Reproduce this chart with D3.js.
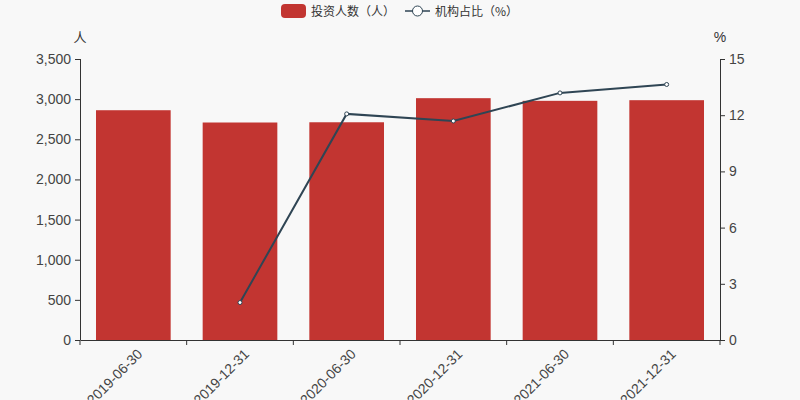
<!DOCTYPE html>
<html>
<head>
<meta charset="utf-8">
<script src="https://cdn.jsdelivr.net/npm/d3@7"></script>
<style>
  body { margin: 0; background: #f8f8f8; }
  svg { display: block; font-family: "Liberation Sans", Arial, "Noto Sans CJK SC", sans-serif; }
</style>
</head>
<body>
<svg id="chart" width="800" height="400"></svg>
<script>
const dates = ["2019-06-30", "2019-12-31", "2020-06-30", "2020-12-31", "2021-06-30", "2021-12-31"];
const investors = [2862, 2709, 2712, 3012, 2979, 2987];
const instShare = [null, 2.0, 12.07, 11.69, 13.19, 13.64];
const leftTicks = [0, 500, 1000, 1500, 2000, 2500, 3000, 3500];
const rightTicks = [0, 3, 6, 9, 12, 15];

const svg = d3.select("#chart");
const margin = {top: 59, right: 80, bottom: 60, left: 80},
    width = 800 - margin.left - margin.right,
    height = 340 - margin.top;

svg.append("rect").attr("width", 800).attr("height", 400).attr("fill", "#f8f8f8");

const g = svg.append("g").attr("transform", `translate(${margin.left},${margin.top})`);

const x = d3.scaleBand().domain(dates).range([0, width]).padding(0);
const yL = d3.scaleLinear().domain([0, 3500]).range([height, 0]);
const yR = d3.scaleLinear().domain([0, 15]).range([height, 0]);

// bars
const barW = x.bandwidth() * 0.7;
g.selectAll("rect.bar").data(dates).enter().append("rect")
    .attr("class", "bar")
    .attr("x", d => x(d) + (x.bandwidth() - barW) / 2)
    .attr("y", (d, i) => yL(investors[i]))
    .attr("width", barW)
    .attr("height", (d, i) => height - yL(investors[i]))
    .attr("fill", "#c23531");

// axes
const axisColor = "#333";
const leftAxis = g.append("g")
    .call(d3.axisLeft(yL).tickValues(leftTicks).tickSize(5).tickPadding(4).tickFormat(d3.format(",")));
const rightAxis = g.append("g").attr("transform", `translate(${width},0)`)
    .call(d3.axisRight(yR).tickValues(rightTicks).tickSize(5).tickPadding(4));
const bottomAxis = g.append("g").attr("transform", `translate(0,${height})`)
    .call(d3.axisBottom(x).tickSize(0).tickFormat(""));

[leftAxis, rightAxis, bottomAxis].forEach(a => {
  a.select(".domain").attr("stroke", axisColor).attr("stroke-width", 1);
  a.selectAll(".tick line").attr("stroke", axisColor);
  a.selectAll(".tick text").attr("fill", "#444").style("font-size", "14px")
      .style("font-family", "'Liberation Sans', Arial, sans-serif");
});
leftAxis.select(".domain").attr("d", `M0.5,${height}V0`);
rightAxis.select(".domain").attr("d", `M0.5,${height}V0`);

// category boundary ticks
const bounds = dates.map(d => x(d)).concat([width]);
g.append("g").selectAll("line").data(bounds).enter().append("line")
    .attr("x1", d => d).attr("x2", d => d)
    .attr("y1", height).attr("y2", height + 5)
    .attr("stroke", axisColor);

// rotated x labels
g.append("g").selectAll("text").data(dates).enter().append("text")
    .attr("transform", d => `translate(${x(d) + x.bandwidth() / 2 + 3},${height + 8}) rotate(-45)`)
    .attr("text-anchor", "end")
    .attr("dy", "0.71em")
    .attr("fill", "#444")
    .style("font-size", "14px")
    .text(d => d);

// axis names
g.append("text").attr("x", 0).attr("y", -17).attr("text-anchor", "middle")
    .attr("fill", "#333").style("font-size", "13px").style("font-family", "'Noto Sans CJK SC'").text("人");
g.append("text").attr("x", width).attr("y", -17).attr("text-anchor", "middle")
    .attr("fill", "#333").style("font-size", "14px").text("%");

// line
const pts = dates.map((d, i) => ({d: d, v: instShare[i]})).filter(p => p.v !== null);
const line = d3.line()
    .x(p => x(p.d) + x.bandwidth() / 2)
    .y(p => yR(p.v));
g.append("path").datum(pts).attr("d", line)
    .attr("fill", "none").attr("stroke", "#2f4554").attr("stroke-width", 2);
g.selectAll("circle.pt").data(pts).enter().append("circle")
    .attr("class", "pt")
    .attr("cx", p => x(p.d) + x.bandwidth() / 2)
    .attr("cy", p => yR(p.v))
    .attr("r", 2)
    .attr("fill", "#fff")
    .attr("stroke", "#2f4554")
    .attr("stroke-width", 1);

// legend
const leg = svg.append("g").style("font-size", "12px").style("font-family", "'Noto Sans CJK TC', sans-serif");
leg.append("rect").attr("x", 281).attr("y", 4).attr("width", 25).attr("height", 14)
    .attr("rx", 4).attr("fill", "#c23531");
leg.append("text").attr("x", 311).attr("y", 15.5).attr("fill", "#333").text("投资人数（人）");
leg.append("line").attr("x1", 405).attr("x2", 430).attr("y1", 11).attr("y2", 11)
    .attr("stroke", "#2f4554").attr("stroke-width", 1.5);
leg.append("circle").attr("cx", 417.5).attr("cy", 11).attr("r", 5)
    .attr("fill", "#fff").attr("stroke", "#2f4554").attr("stroke-width", 1);
leg.append("text").attr("x", 435).attr("y", 15.5).attr("fill", "#333").text("机构占比（%）");
</script>
</body>
</html>
